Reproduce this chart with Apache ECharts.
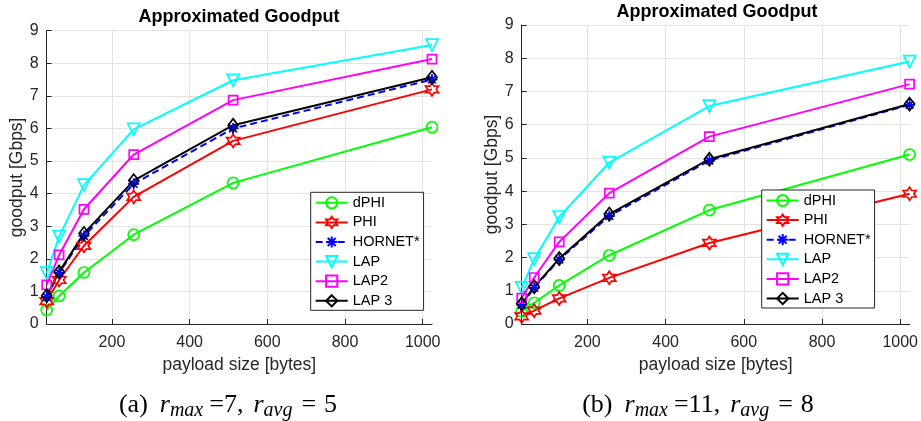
<!DOCTYPE html>
<html>
<head>
<meta charset="utf-8">
<script src="https://cdn.jsdelivr.net/npm/echarts@6/dist/echarts.min.js"></script>
<style>html,body{margin:0;padding:0;background:#fff;}#c{width:921px;height:421px;}</style>
</head>
<body>
<div id="c"></div>
<script>
const payload = [32, 64, 128, 256, 512, 1024];
const xTicks = [200, 400, 600, 800, 1000];
const seriesNames = ['dPHI', 'PHI', 'HORNET*', 'LAP', 'LAP2', 'LAP 3'];
// (a) r_max=7, r_avg=5
const aDPHI   = [0.43, 0.86, 1.58, 2.74, 4.33, 6.04];
const aPHI    = [0.70, 1.35, 2.40, 3.90, 5.62, 7.20];
const aHORNET = [0.83, 1.57, 2.70, 4.30, 6.00, 7.50];
const aLAP    = [1.56, 2.68, 4.26, 5.97, 7.48, 8.56];
const aLAP2   = [1.20, 2.12, 3.52, 5.20, 6.87, 8.13];
const aLAP3   = [0.87, 1.60, 2.78, 4.40, 6.10, 7.57];
// (b) r_max=11, r_avg=8
const bDPHI   = [0.38, 0.64, 1.16, 2.07, 3.43, 5.10];
const bPHI    = [0.23, 0.40, 0.77, 1.39, 2.44, 3.92];
const bHORNET = [0.58, 1.09, 1.94, 3.25, 4.92, 6.60];
const bLAP    = [1.09, 1.95, 3.22, 4.86, 6.56, 7.90];
const bLAP2   = [0.78, 1.40, 2.47, 3.94, 5.64, 7.22];
const bLAP3   = [0.61, 1.12, 1.97, 3.31, 4.96, 6.62];

const FONT = 'Liberation Sans, Arial, Helvetica, sans-serif';
const SERIF = 'Liberation Serif, Times New Roman, serif';
const TXT = '#262626';

const HEXAGRAM = 'path://M0,-100L28.87,-50L86.6,-50L57.74,0L86.6,50L28.87,50L0,100L-28.87,50L-86.6,50L-57.74,0L-86.6,-50L-28.87,-50Z';
const ASTERISK = 'path://M0,-100L0,100M-100,0L100,0M-70.7,-70.7L70.7,70.7M-70.7,70.7L70.7,-70.7';

const styles = [
  {color: '#00ff00', symbol: 'circle', size: 11, rotate: 0, dash: 'solid'},
  {color: '#ff0000', symbol: HEXAGRAM, size: 13, rotate: 0, dash: 'solid'},
  {color: '#0000ff', symbol: ASTERISK, size: 11, rotate: 0, dash: [7, 4]},
  {color: '#00ffff', symbol: 'triangle', size: 12, rotate: 180, dash: 'solid'},
  {color: '#ff00ff', symbol: 'rect', size: 9, rotate: 0, dash: 'solid'},
  {color: '#000000', symbol: 'diamond', size: [10, 13], rotate: 0, dash: 'solid'}
];

function mkSeries(values, idx) {
  return values.map((vals, i) => {
    const s = styles[i];
    return {
      name: seriesNames[i],
      type: 'line',
      xAxisIndex: idx, yAxisIndex: idx,
      data: payload.map((p, k) => [p, vals[k]]),
      symbol: s.symbol,
      symbolSize: s.size,
      symbolRotate: s.rotate,
      showAllSymbol: true,
      animation: false,
      lineStyle: {color: s.color, width: 2, type: s.dash},
      itemStyle: {color: 'rgba(0,0,0,0)', borderColor: s.color, borderWidth: 1.7},
      emphasis: {disabled: true}
    };
  });
}

function xAxis(idx) {
  return {
    type: 'value', gridIndex: idx, min: 32, max: 1024,
    name: 'payload size [bytes]', nameLocation: 'middle', nameGap: 31,
    nameTextStyle: {fontFamily: FONT, fontSize: 17.5, color: TXT},
    axisLine: {show: true, onZero: false, lineStyle: {color: TXT, width: 1}},
    axisTick: {show: true, inside: true, length: 5, customValues: xTicks, lineStyle: {color: TXT}},
    axisLabel: {customValues: xTicks, margin: 11, fontFamily: FONT, fontSize: 16, color: TXT,
                formatter: v => String(v)},
    splitLine: {show: true, lineStyle: {color: '#e3e3e3', width: 1}}
  };
}
function yAxis(idx) {
  return {
    type: 'value', gridIndex: idx, min: 0, max: 9, interval: 1,
    name: 'goodput [Gbps]', nameLocation: 'middle', nameGap: 19,
    nameTextStyle: {fontFamily: FONT, fontSize: 17.5, color: TXT},
    axisLine: {show: true, lineStyle: {color: TXT, width: 1}},
    axisTick: {show: true, inside: true, length: 5, lineStyle: {color: TXT}},
    axisLabel: {margin: 8, fontFamily: FONT, fontSize: 16, color: TXT},
    splitLine: {show: true, lineStyle: {color: '#e3e3e3', width: 1}}
  };
}

function legend(left, top) {
  return {
    data: seriesNames.map(n => ({name: n})),
    orient: 'vertical', left: left, top: top,
    itemWidth: 32, itemHeight: 14, itemGap: 4.6,
    padding: [3, 4, 2, 4],
    backgroundColor: '#fff', borderColor: TXT, borderWidth: 1,
    textStyle: {fontFamily: FONT, fontSize: 14.5, color: '#000'},
    selectedMode: false
  };
}

const base = {fontFamily: SERIF, fontWeight: 'normal', color: '#000'};
const capRich = {
  lab: Object.assign({}, base, {fontSize: 26, padding: [0, 12, 0, 0]}),
  r:   Object.assign({}, base, {fontSize: 26, fontStyle: 'italic'}),
  s1:  Object.assign({}, base, {fontSize: 20, fontStyle: 'italic', padding: [12, 6, 0, 0]}),
  eq1: Object.assign({}, base, {fontSize: 26, padding: [0, 10, 0, 0]}),
  s2:  Object.assign({}, base, {fontSize: 20, fontStyle: 'italic', padding: [12, 9, 0, 0]}),
  eq2: Object.assign({}, base, {fontSize: 26, padding: [0, 8, 0, 0]}),
  n:   Object.assign({}, base, {fontSize: 26})
};

const chart = echarts.init(document.getElementById('c'), null, {renderer: 'canvas'});
const option = {
  backgroundColor: '#fff',
  animation: false,
  title: [
    {text: 'Approximated Goodput', left: 239, top: 8, textAlign: 'center', padding: 0,
     textStyle: {fontFamily: FONT, fontSize: 18, fontWeight: 'bold', color: '#000'}},
    {text: 'Approximated Goodput', left: 717, top: 3, textAlign: 'center', padding: 0,
     textStyle: {fontFamily: FONT, fontSize: 18, fontWeight: 'bold', color: '#000'}},
    {text: '{lab|(a)}{r|r}{s1|max}{eq1|=7,}{r|r}{s2|avg}{eq2|=}{n|5}', left: 228, top: 389, textAlign: 'center', padding: 0,
     textStyle: {fontWeight: 'normal', rich: capRich}},
    {text: '{lab|(b)}{r|r}{s1|max}{eq1|=11,}{r|r}{s2|avg}{eq2|=}{n|8}', left: 698, top: 389, textAlign: 'center', padding: 0,
     textStyle: {fontWeight: 'normal', rich: capRich}}
  ],
  grid: [
    {left: 46.7, right: 489, top: 30.7, bottom: 97, containLabel: false},
    {left: 521.7, right: 8.7, top: 25, bottom: 97, containLabel: false}
  ],
  xAxis: [xAxis(0), xAxis(1)],
  yAxis: [yAxis(0), yAxis(1)],
  legend: [legend(310.7, 192.3), legend(761.7, 190)],
  series: mkSeries([aDPHI, aPHI, aHORNET, aLAP, aLAP2, aLAP3], 0)
    .concat(mkSeries([bDPHI, bPHI, bHORNET, bLAP, bLAP2, bLAP3], 1))
};
chart.setOption(option);
</script>
</body>
</html>
